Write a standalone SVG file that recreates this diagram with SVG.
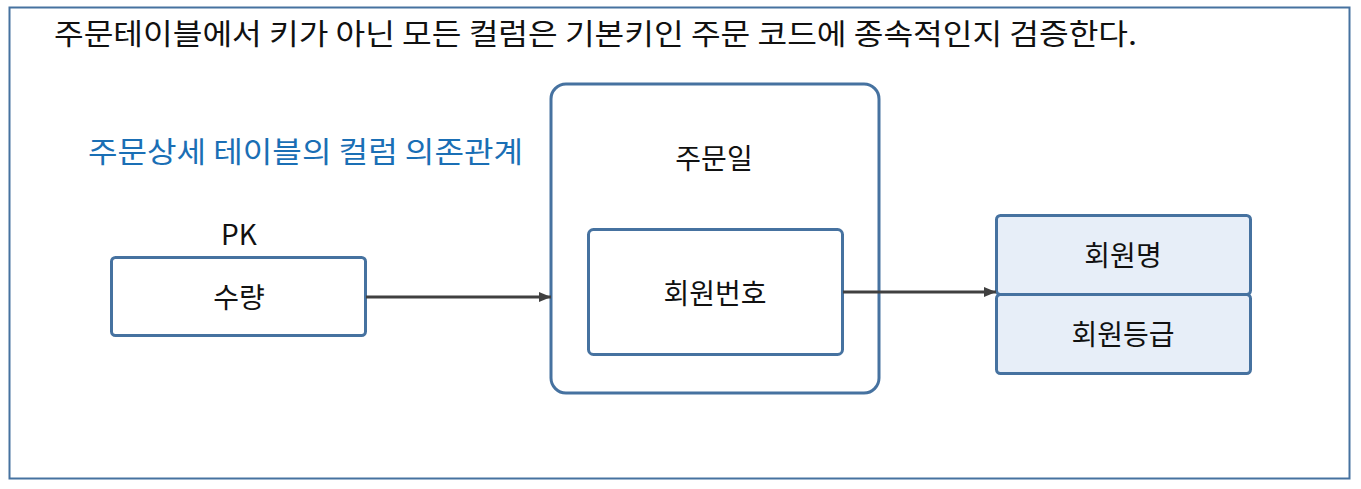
<svg xmlns="http://www.w3.org/2000/svg" width="1361" height="489" viewBox="0 0 1361 489">
<style>
text{font-family:"Noto Sans CJK KR","Noto Sans",sans-serif;fill:#111;}
.t{font-size:28px;}
.box{fill:#fff;stroke:#4672A0;stroke-width:3;}
.sub{fill:#E7EEF8;stroke:#4672A0;stroke-width:3;}
.c{text-anchor:middle;dominant-baseline:central;}
.edge{stroke:#404040;stroke-width:3;fill:none;marker-end:url(#ah);}
</style>
<defs>
<marker id="ah" markerWidth="12" markerHeight="10" refX="12" refY="5" orient="auto" markerUnits="userSpaceOnUse">
<path d="M0,0 L12,5 L0,10 Z" fill="#404040"/>
</marker>
</defs>
<rect x="0" y="0" width="1361" height="489" fill="#fff"/>
<rect id="frame" x="9.5" y="7.5" width="1340" height="471" fill="none" stroke="#4672A0" stroke-width="2"/>
<text x="54" y="45" font-size="29" textLength="1083" lengthAdjust="spacingAndGlyphs">주문테이블에서 키가 아닌 모든 컬럼은 기본키인 주문 코드에 종속적인지 검증한다.</text>
<text x="88" y="163" font-size="29" style="fill:#1A6FB5" textLength="435" lengthAdjust="spacingAndGlyphs">주문상세 테이블의 컬럼 의존관계</text>
<g id="node-qty">
<text class="t c" x="239" y="233">PK</text>
<rect class="box" x="111.5" y="257.5" width="254" height="78" rx="4"/>
<text class="t c" x="239" y="296">수량</text>
</g>
<g id="node-order">
<rect class="box" x="551" y="84" width="328" height="309" rx="15"/>
<text class="t c" x="714" y="157">주문일</text>
</g>
<g id="node-member">
<rect class="box" x="588.5" y="229.5" width="254" height="125" rx="5"/>
<text class="t c" x="715" y="292">회원번호</text>
</g>
<g id="node-attrs">
<rect class="sub" x="996.5" y="215.5" width="254" height="79" rx="4"/>
<rect class="sub" x="996.5" y="294.5" width="254" height="79" rx="4"/>
<text class="t c" x="1123" y="254">회원명</text>
<text class="t c" x="1123" y="333">회원등급</text>
</g>
<g id="connectors">
<line class="edge" x1="366" y1="297" x2="551" y2="297"/>
<line class="edge" x1="843" y1="292" x2="996" y2="292"/>
</g>
</svg>
